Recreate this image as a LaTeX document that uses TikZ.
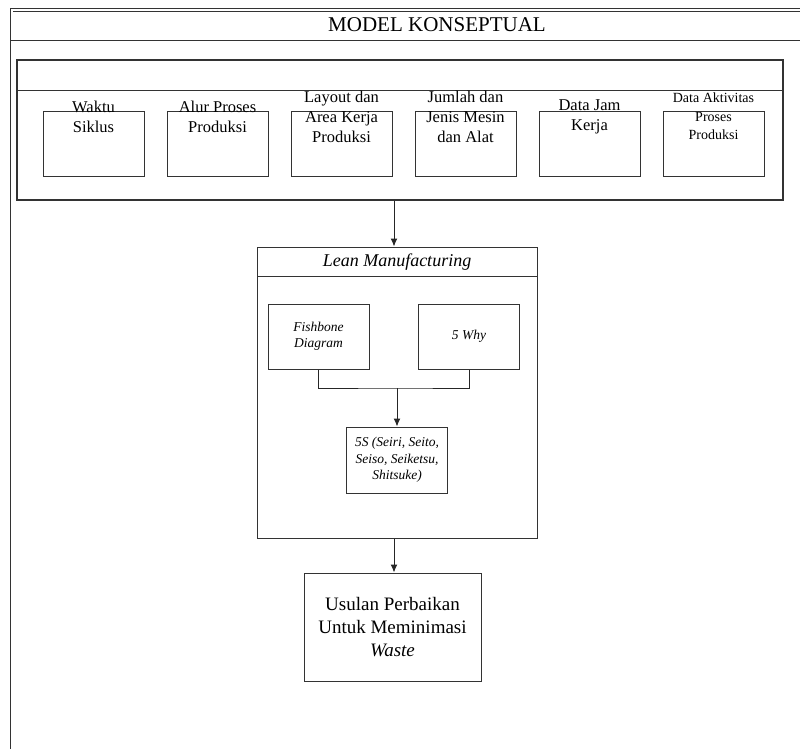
\documentclass[tikz,border=0pt]{standalone}
\usepackage{fontspec}
\setmainfont{Liberation Serif}
\usetikzlibrary{arrows.meta}

\begin{document}
\begin{tikzpicture}[
x=1pt,y=-1pt,
frame/.style={draw=black!80,line width=1pt},
container/.style={rectangle,draw=black!80,line width=1.2pt,inner sep=0pt},
input/.style={rectangle,draw=black!80,line width=1pt,inner sep=0pt,minimum width=101pt,minimum height=64pt},
inlabel/.style={align=center,inner sep=0pt,font=\fontsize{16.5}{20}\selectfont},
method/.style={rectangle,draw=black!80,line width=1pt,inner sep=0pt,minimum width=101pt,minimum height=65pt,align=center,font=\itshape\fontsize{13.5}{16.5}\selectfont},
result/.style={rectangle,draw=black!80,line width=1pt,inner sep=0pt,minimum width=177pt,minimum height=108pt,align=center,font=\fontsize{19}{23}\selectfont},
link/.style={line width=1pt,draw=black!85},
flow/.style={->,>={Latex[length=8pt,width=7pt]},line width=1pt,draw=black!85},
]
\useasboundingbox (0,0) rectangle (800,749);

% Outer frame with title
\draw[frame] (800,9) -- (10.5,9) -- (10.5,749);
\draw[frame] (800,11.5) -- (12.5,11.5);
\draw[frame] (10.5,40.5) -- (800,40.5);
\node[inner sep=0pt,font=\fontsize{21}{25}\selectfont] (title) at (437,25) {MODEL KONSEPTUAL};

% Input data
\node[container,minimum width=766pt,minimum height=140pt] (data) at (400,130) {};
\draw[frame] (17,91) -- (783,91);

\def\first{93.5}
\def\gap{124}
\foreach \i in {1,...,6}{
  \node[input] (in\i) at ({\first+\gap*(\i-1)},144) {};
}
\foreach \i/\txt in {1/{Waktu\\Siklus},2/{Alur Proses\\Produksi},3/{Layout dan\\Area Kerja\\Produksi},4/{Jumlah dan\\Jenis Mesin\\dan Alat},5/{Data Jam\\Kerja}}{
  \node[inlabel] (lb\i) at ({\first+\gap*(\i-1)},116.5) {\txt};
}
\node[inlabel,font=\fontsize{14}{18.5}\selectfont] (lb6) at ({\first+\gap*5},116.5) {Data Aktivitas\\Proses\\Produksi};

% Lean manufacturing
\node[container,line width=1pt,minimum width=280pt,minimum height=291pt] (lean) at (397,392.5) {};
\draw[frame] (257,276) -- (537,276);
\node[inner sep=0pt,font=\itshape\fontsize{18}{22}\selectfont] (leantitle) at (397,262) {Lean Manufacturing};

\node[method] (fish) at (318.5,336.5) {Fishbone\\Diagram};
\node[method] (why) at (469,336.5) {5 Why};
\node[method,minimum height=66pt] (fives) at (397,460) {5S (Seiri, Seito,\\Seiso, Seiketsu,\\Shitsuke)};
\coordinate (join) at (397,388);

% Result
\node[result] (usulan) at (392.5,627) {Usulan Perbaikan\\Untuk Meminimasi\\\textit{Waste}};

% Connectors
\draw[flow] (data.south -| 394,0) -- (394,0 |- lean.north);
\draw[link] (fish.south) |- (join) -| (why.south);
\draw[flow] (join) -- (fives.north);
\draw[flow] (lean.south -| 394,0) -- (394,0 |- usulan.north);
\end{tikzpicture}
\end{document}
